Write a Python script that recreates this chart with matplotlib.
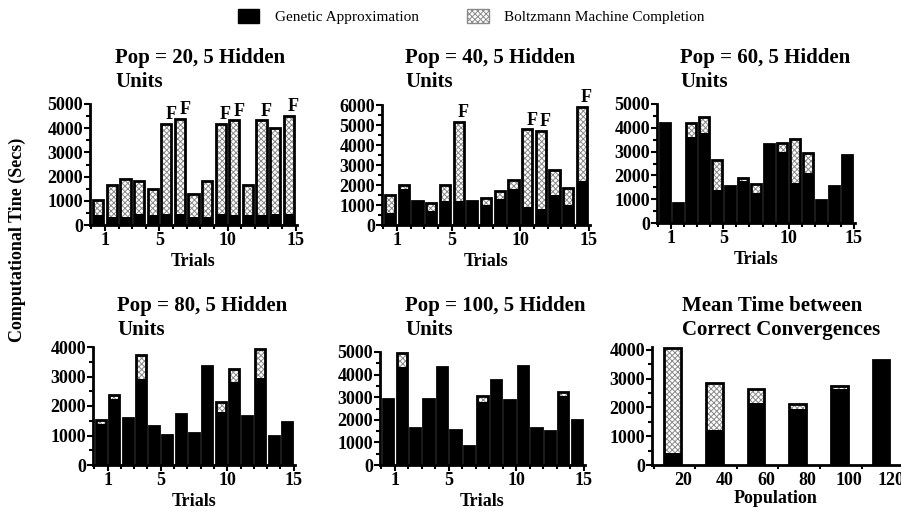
import numpy as np
import matplotlib.pyplot as plt
from matplotlib.patches import Patch
from matplotlib.ticker import MultipleLocator

plt.rcParams['font.family'] = ['Liberation Serif', 'DejaVu Serif']
plt.rcParams['hatch.linewidth'] = 0.7

# data (seconds)
trials = np.arange(1, 16)

pop20_genetic = [400, 350, 350, 450, 400, 450, 450, 350, 350, 450, 400, 400, 400, 450, 450]
pop20_boltzmann = [650, 1300, 1550, 1350, 1080, 3730, 3930, 950, 1450, 3730, 3920, 1250, 3920, 3550, 4050]
pop20_failed = [6, 7, 10, 11, 13, 15]

pop40_genetic = [600, 1800, 1200, 700, 1200, 1200, 1200, 1000, 1300, 1800, 900, 800, 1500, 1000, 2200]
pop40_boltzmann = [900, 200, 0, 380, 800, 3970, 0, 330, 420, 450, 3880, 3920, 1250, 830, 3720]
pop40_failed = [6, 11, 12, 15]

pop60_genetic = [4200, 850, 3600, 3800, 1400, 1550, 1750, 1250, 3300, 3000, 1700, 2100, 950, 1560, 2850]
pop60_boltzmann = [0, 0, 600, 650, 1250, 0, 150, 400, 0, 380, 1850, 850, 0, 0, 0]

pop80_genetic = [1400, 2250, 1610, 2900, 1330, 1010, 1740, 1070, 3370, 1800, 2800, 1660, 2950, 1000, 1460]
pop80_boltzmann = [140, 110, 0, 840, 0, 0, 0, 0, 0, 330, 460, 0, 980, 0, 0]

pop100_genetic = [2900, 4350, 1650, 2900, 4330, 1570, 830, 2800, 3750, 2880, 4400, 1650, 1500, 3050, 2000]
pop100_boltzmann = [0, 600, 0, 0, 0, 0, 0, 250, 0, 0, 0, 0, 0, 200, 0]

populations = ['20', '40', '60', '80', '100', '120']
mean_genetic = [420, 1200, 2150, 1950, 2650, 3650]
mean_boltzmann = [3630, 1660, 490, 170, 110, 0]

W, H = 901, 512
fig = plt.figure(figsize=(W / 100, H / 100), dpi=100)


def make_ax(left, right, top, bottom):
    return fig.add_axes([left / W, 1 - bottom / H, (right - left) / W, (bottom - top) / H])


def stacked(ax, x, gen, boltz, width):
    gen = np.array(gen)
    boltz = np.array(boltz)
    ax.bar(x, gen, width, color='black', linewidth=0)
    ax.bar(x, boltz, width, bottom=gen, color='white', hatch='xxxxxx',
           edgecolor='#8a8a8a', linewidth=0)
    ax.bar(x, gen + boltz, width, fill=False, edgecolor='black', linewidth=2)


def style(ax, ymax, ytop):
    for s in ['top', 'right']:
        ax.spines[s].set_visible(False)
    ax.spines['left'].set_linewidth(2)
    ax.spines['bottom'].set_linewidth(2)
    ax.set_ylim(0, ytop)
    ax.set_yticks(np.arange(0, ymax + 1, 1000))
    ax.yaxis.set_minor_locator(MultipleLocator(500))
    ax.tick_params(axis='both', which='major', direction='out', length=4, width=1.5,
                   labelsize=13, pad=1)
    ax.tick_params(axis='both', which='minor', direction='out', length=3, width=1.5)
    for lab in ax.get_yticklabels() + ax.get_xticklabels():
        lab.set_fontweight('bold')


def title(ax, text, x_px, y_px):
    fig.text(x_px / W, 1 - y_px / H, text, fontsize=15, fontweight='bold',
             ha='left', va='center', linespacing=1.3)


panels = [
    ((90, 297, 104, 225), pop20_genetic, pop20_boltzmann, pop20_failed, 'Pop = 20, 5 Hidden\nUnits', 5000, (115, 70)),
    ((382, 590, 105, 225), pop40_genetic, pop40_boltzmann, pop40_failed, 'Pop = 40, 5 Hidden\nUnits', 6000, (405, 70)),
    ((657, 855, 104, 223), pop60_genetic, pop60_boltzmann, [], 'Pop = 60, 5 Hidden\nUnits', 5000, (680, 70)),
    ((93, 295, 347, 465), pop80_genetic, pop80_boltzmann, [], 'Pop = 80, 5 Hidden\nUnits', 4000, (117, 318)),
    ((380, 585, 352, 465), pop100_genetic, pop100_boltzmann, [], 'Pop = 100, 5 Hidden\nUnits', 5000, (405, 318)),
]

for box, gen, boltz, failed, ttl, ymax, tpos in panels:
    ax = make_ax(*box)
    x = trials - 0.5
    stacked(ax, x, gen, boltz, 0.75)
    for f in failed:
        tot = gen[f - 1] + boltz[f - 1]
        ax.text(f - 0.15, tot + ymax * 0.005, 'F', fontsize=13, fontweight='bold',
                ha='center', va='bottom', clip_on=False)
    ax.set_xlim(-0.1, 15.1)
    ax.set_xticks([1, 5, 10, 15])
    ax.set_xticks(np.arange(0, 16), minor=True)
    style(ax, ymax, ymax)
    ax.set_xlabel('Trials', fontsize=13, fontweight='bold', labelpad=3)
    title(ax, ttl, *tpos)

# mean time panel
ax6 = make_ax(652, 900, 347, 465)
pos = np.arange(len(populations))
stacked(ax6, pos + 0.46, mean_genetic, mean_boltzmann, 0.4)
ax6.set_xlim(-0.04, 5.92)
ax6.set_xticks(pos + 0.7)
ax6.set_xticklabels(populations)
ax6.set_xticks(np.arange(0, 6), minor=True)
style(ax6, 4000, 4100)
ax6.tick_params(axis='x', which='major', length=0, pad=5)
ax6.set_xlabel('Population', fontsize=13, fontweight='bold', labelpad=1)
title(ax6, 'Mean Time between\nCorrect Convergences', 682, 318)

fig.text(0.019, 0.531, 'Computational Tine (Secs)', rotation=90, fontsize=13,
         fontweight='bold', ha='center', va='center')

handles = [Patch(facecolor='black', edgecolor='black'),
           Patch(facecolor='white', edgecolor='#8a8a8a', hatch='xxxxxx')]
fig.legend(handles, ['Genetic Approximation', 'Boltzmann Machine Completion'],
           loc='center', bbox_to_anchor=(0.523, 0.968), ncol=2, frameon=False,
           fontsize=11, handlelength=1.4, handleheight=1.1, handletextpad=1.0,
           columnspacing=3.2)

fig.savefig('out.png', dpi=100)
